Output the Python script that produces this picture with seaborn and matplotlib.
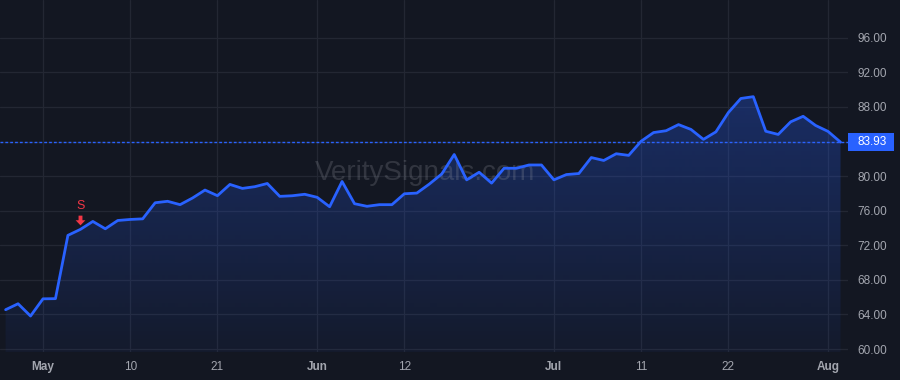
import numpy as np
import pandas as pd
import matplotlib
matplotlib.use("Agg")
import matplotlib.pyplot as plt
import matplotlib.transforms as mtransforms
from matplotlib.patches import Rectangle
from matplotlib.path import Path
import seaborn as sns

# ---------------- data ----------------
holidays = ["2024-05-27", "2024-06-19", "2024-07-04"]
dates = [d for d in pd.bdate_range("2024-04-26", "2024-08-02") if d.strftime("%Y-%m-%d") not in holidays]

prices = [64.55, 65.24, 63.82, 65.81, 65.83, 73.15, 73.84, 74.76, 73.91, 74.87,
          74.99, 75.06, 76.92, 77.09, 76.70, 77.47, 78.39, 77.74, 79.04, 78.58,
          78.78, 79.15, 77.66, 77.73, 77.90, 77.55, 76.46, 79.38, 76.81, 76.51,
          76.70, 76.70, 77.96, 78.04, 79.08, 80.25, 82.50, 79.57, 80.45, 79.19,
          80.91, 80.91, 81.29, 81.29, 79.57, 80.18, 80.30, 82.15, 81.81, 82.59,
          82.40, 84.04, 85.04, 85.25, 85.96, 85.40, 84.25, 85.12, 87.35, 88.98,
          89.19, 85.19, 84.82, 86.28, 86.92, 85.86, 85.17, 83.93]

tick_dates = ["2024-05-01", "2024-05-10", "2024-05-21", "2024-06-03", "2024-06-12",
              "2024-07-01", "2024-07-11", "2024-07-22", "2024-08-01"]
tick_labels = ["May", "10", "21", "Jun", "12", "Jul", "11", "22", "Aug"]
month_labels = {"May", "Jun", "Jul", "Aug"}

y_ticks = [60, 64, 68, 72, 76, 80, 84, 88, 92, 96]
last_price = 83.93
signal_date = "2024-05-06"
signal_text = "S"
watermark = "VeritySignals.com"

# ---------------- style ----------------
BG = "#131722"
GRID = "#232733"
LINE = "#2962ff"
TXT = "#a3a6af"
RED = "#f23645"

sns.set_theme(style="dark")
plt.rcParams["font.family"] = ["Liberation Sans", "DejaVu Sans"]

fig = plt.figure(figsize=(9, 3.8), dpi=100)
fig.patch.set_facecolor(BG)
ax = fig.add_axes([0, 1 - 352 / 380, 848 / 900, 352 / 380])
ax.set_facecolor(BG)

date_str = [d.strftime("%Y-%m-%d") for d in dates]
df = pd.DataFrame({"idx": np.arange(len(prices)), "price": prices, "date": date_str})

ymin, ymax = 59.66, 100.37
xmin, xmax = -0.45, 67.6

# gradient fill under the line
poly = ax.fill_between(df["idx"], df["price"], ymin, facecolor="none", edgecolor="none")
top_c = np.array(matplotlib.colors.to_rgb(LINE))
n = 256
grad = np.zeros((n, 1, 4))
grad[:, 0, :3] = top_c
grad[:, 0, 3] = np.linspace(0.05, 0.30, n)
img = ax.imshow(grad, extent=[xmin, xmax, ymin, max(prices)], aspect="auto",
                origin="lower", zorder=1, interpolation="bilinear")
img.set_clip_path(poly.get_paths()[0], transform=ax.transData)

sns.lineplot(data=df, x="idx", y="price", color=LINE, lw=2, ax=ax, zorder=3)

ax.axhline(last_price, color=LINE, lw=1, ls=(0, (2, 1.5)), zorder=2)

ax.set_xlim(xmin, xmax)
ax.set_ylim(ymin, ymax)

tick_idx = [date_str.index(t) for t in tick_dates]
ax.set_xticks(tick_idx)
ax.set_xticklabels(tick_labels)
for lbl in ax.get_xticklabels():
    if lbl.get_text() in month_labels:
        lbl.set_fontweight("bold")

ax.set_yticks(y_ticks)
ax.set_yticklabels([f"{v:.2f}" for v in y_ticks])
ax.yaxis.tick_right()
ax.tick_params(axis="both", length=0, colors=TXT, labelsize=8.5)
ax.tick_params(axis="y", pad=6.5)
ax.tick_params(axis="x", pad=6.5)
ax.set_xlabel("")
ax.set_ylabel("")

ax.grid(True, color=GRID, lw=0.9)
ax.set_axisbelow(True)
for s in ax.spines.values():
    s.set_visible(False)

# last-price label
trans = mtransforms.blended_transform_factory(ax.transAxes, ax.transData)
h = 9 / 8.72
rect = Rectangle((1.0, last_price - h), 46 / 848, 2 * h, transform=trans,
                 facecolor=LINE, edgecolor="none", clip_on=False, zorder=5)
ax.add_patch(rect)
ax.text(1.0 + 10 / 848, last_price, f"{last_price:.2f}", transform=trans,
        color="white", fontsize=8.5, va="center", ha="left", zorder=6, clip_on=False)

# signal marker: block down-arrow + letter
si = date_str.index(signal_date)
sp = prices[si]
arrow_path = Path([(-0.4, 1.0), (0.4, 1.0), (0.4, 0.05), (1.0, 0.05), (0.0, -1.0),
                   (-1.0, 0.05), (-0.4, 0.05), (-0.4, 1.0)],
                  [Path.MOVETO] + [Path.LINETO] * 6 + [Path.CLOSEPOLY])
arrow_tr = mtransforms.offset_copy(ax.transData, fig=fig, x=0, y=7.0, units="points")
ax.plot([si], [sp], marker=arrow_path, markersize=7, color=RED, mec=RED, mew=0,
        transform=arrow_tr, zorder=6, linestyle="none")
ax.annotate(signal_text, xy=(si, sp), xytext=(0, 17), textcoords="offset points",
            color=RED, fontsize=9, ha="center", va="center", zorder=6)

# watermark
ax.text(0.501, 0.508, watermark, transform=ax.transAxes, fontsize=20,
        color="#9598a1", alpha=0.24, ha="center", va="center", zorder=2)

fig.savefig("out.png", dpi=100, facecolor=BG)
